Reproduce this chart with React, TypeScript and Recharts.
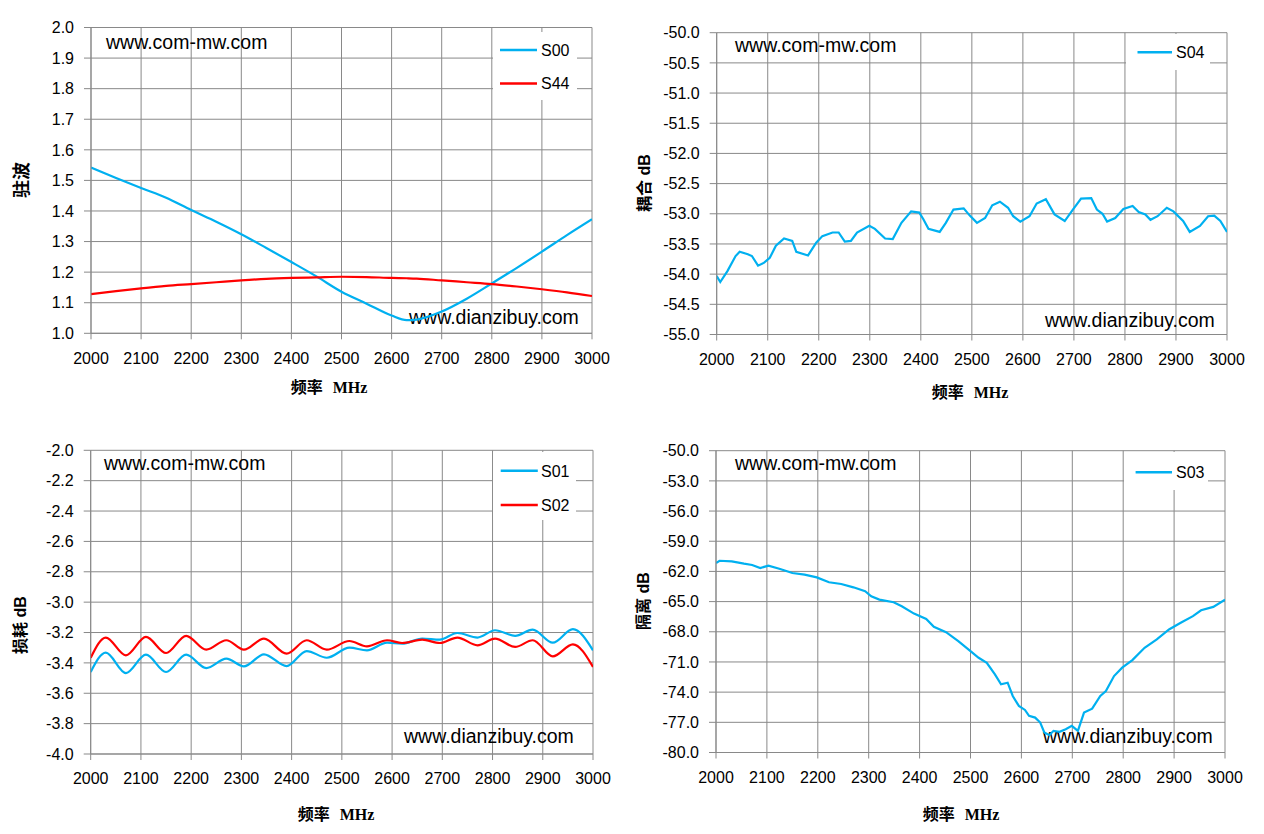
import React from 'react';
import { LineChart, Line, XAxis, YAxis, CartesianGrid } from 'recharts';

// ---------- shared axis ticks ----------
const FREQ_TICKS = [2000, 2100, 2200, 2300, 2400, 2500, 2600, 2700, 2800, 2900, 3000];
const VSWR_TICKS = [1.0, 1.1, 1.2, 1.3, 1.4, 1.5, 1.6, 1.7, 1.8, 1.9, 2.0];
const COUPLING_TICKS = [-55.0, -54.5, -54.0, -53.5, -53.0, -52.5, -52.0, -51.5, -51.0, -50.5, -50.0];
const LOSS_TICKS = [-4.0, -3.8, -3.6, -3.4, -3.2, -3.0, -2.8, -2.6, -2.4, -2.2, -2.0];
const ISO_TICKS = [-80.0, -77.0, -74.0, -71.0, -68.0, -65.0, -62.0, -59.0, -56.0, -53.0, -50.0];

// ---------- chart 1: VSWR ----------
const vswrFreq = [2000, 2050, 2100, 2150, 2200, 2250, 2300, 2350, 2400, 2450, 2500, 2550, 2600, 2630, 2650, 2700, 2750, 2800, 2850, 2900, 2950, 3000];
const s00 = [1.542, 1.508, 1.475, 1.443, 1.403, 1.365, 1.324, 1.279, 1.233, 1.186, 1.136, 1.097, 1.058, 1.043, 1.045, 1.071, 1.113, 1.163, 1.214, 1.267, 1.321, 1.373];
const s44 = [1.128, 1.138, 1.147, 1.155, 1.161, 1.167, 1.173, 1.178, 1.181, 1.183, 1.185, 1.184, 1.181, 1.180, 1.179, 1.173, 1.167, 1.161, 1.153, 1.144, 1.134, 1.122];

// ---------- chart 2: coupling S04 ----------
const s04Freq = [2000, 2007, 2021, 2037, 2045, 2061, 2069, 2081, 2093, 2104, 2116, 2132, 2148, 2156, 2179, 2195, 2207, 2227, 2239, 2251, 2263, 2275, 2299, 2310, 2330, 2345, 2362, 2381, 2397, 2405, 2415, 2437, 2449, 2464, 2484, 2496, 2510, 2526, 2540, 2555, 2571, 2581, 2595, 2613, 2627, 2645, 2662, 2682, 2698, 2714, 2734, 2745, 2756, 2765, 2781, 2797, 2815, 2827, 2840, 2850, 2864, 2882, 2895, 2914, 2927, 2947, 2963, 2975, 2987, 3000];
const s04 = [-54.03, -54.13, -53.95, -53.70, -53.63, -53.67, -53.70, -53.86, -53.81, -53.73, -53.53, -53.41, -53.45, -53.63, -53.69, -53.48, -53.37, -53.31, -53.31, -53.46, -53.45, -53.31, -53.20, -53.25, -53.41, -53.42, -53.15, -52.96, -52.98, -53.09, -53.25, -53.30, -53.15, -52.93, -52.91, -53.03, -53.15, -53.07, -52.86, -52.80, -52.90, -53.04, -53.13, -53.04, -52.83, -52.76, -53.01, -53.12, -52.93, -52.75, -52.74, -52.93, -53.00, -53.13, -53.07, -52.92, -52.87, -52.97, -53.01, -53.10, -53.04, -52.90, -52.96, -53.12, -53.30, -53.20, -53.04, -53.03, -53.12, -53.30];

// ---------- chart 3: insertion loss ----------
const lossFreq = [2000, 2030, 2070, 2110, 2150, 2190, 2230, 2270, 2305, 2345, 2390, 2430, 2470, 2515, 2550, 2590, 2620, 2660, 2695, 2730, 2770, 2805, 2845, 2880, 2920, 2960, 3000];
const s01 = [-3.460, -3.333, -3.467, -3.346, -3.460, -3.346, -3.434, -3.372, -3.423, -3.344, -3.421, -3.322, -3.366, -3.300, -3.317, -3.267, -3.273, -3.240, -3.247, -3.203, -3.233, -3.185, -3.222, -3.181, -3.267, -3.178, -3.317];
const s02 = [-3.366, -3.233, -3.350, -3.229, -3.335, -3.222, -3.313, -3.251, -3.313, -3.240, -3.339, -3.251, -3.313, -3.256, -3.291, -3.251, -3.269, -3.247, -3.269, -3.233, -3.284, -3.240, -3.295, -3.251, -3.357, -3.278, -3.427];

// ---------- chart 4: isolation S03 ----------
const s03Freq = [2000, 2007, 2031, 2055, 2071, 2087, 2103, 2126, 2150, 2174, 2198, 2222, 2246, 2270, 2293, 2305, 2321, 2349, 2365, 2389, 2413, 2428, 2452, 2476, 2500, 2516, 2532, 2548, 2560, 2573, 2583, 2595, 2607, 2615, 2627, 2637, 2645, 2655, 2663, 2675, 2687, 2699, 2711, 2723, 2739, 2755, 2766, 2782, 2798, 2818, 2842, 2866, 2890, 2913, 2937, 2953, 2977, 3000];
const s03 = [-61.17, -60.94, -61.00, -61.23, -61.36, -61.66, -61.43, -61.76, -62.16, -62.32, -62.59, -63.08, -63.25, -63.58, -63.97, -64.47, -64.80, -65.06, -65.46, -66.19, -66.72, -67.51, -68.04, -68.93, -69.92, -70.58, -71.08, -72.23, -73.22, -73.06, -74.38, -75.37, -75.77, -76.36, -76.53, -77.02, -78.01, -78.28, -77.85, -77.95, -77.68, -77.35, -77.85, -76.03, -75.64, -74.38, -73.89, -72.40, -71.57, -70.81, -69.59, -68.76, -67.77, -67.11, -66.45, -65.86, -65.53, -64.80];

// ---------- styles ----------
const GRID = '#898989';
const BLUE = '#00B0F0';
const RED = '#FF0000';
const SANS = "'Liberation Sans', Arial, sans-serif";
const TITLE_Y_FONT = "'Liberation Sans', 'Noto Sans CJK SC', sans-serif";
const TITLE_X_FONT = "'Liberation Serif', 'Noto Sans CJK SC', serif";
const YAXIS_W = 60;
const XAXIS_H = 30;

type Series = { key: string; name: string; color: string };
type Mark = { text: string; x: number; y: number };
type LegendBox = { x: number; y: number; w: number; h: number; x1: number; x2: number; tx: number; rows: number[] };

type PanelProps = {
  ox: number; oy: number; w: number; h: number;
  plot: { l: number; t: number; r: number; b: number };
  data: any[];
  series: Series[];
  yDomain: [number, number];
  yTicks: number[];
  curve: 'monotone' | 'linear';
  yTitle: string; yTitlePos: [number, number]; yTitleSize: number;
  xTitlePos: [number, number];
  marks: Mark[];
  legend: LegendBox;
};

function Panel(p: PanelProps) {
  const margin = {
    top: p.plot.t - p.oy,
    left: p.plot.l - p.ox - YAXIS_W,
    right: p.ox + p.w - p.plot.r,
    bottom: p.oy + p.h - p.plot.b - XAXIS_H,
  };
  const L = (x: number) => x - p.ox;
  const T = (y: number) => y - p.oy;
  const [ytx, yty] = [L(p.yTitlePos[0]), T(p.yTitlePos[1])];
  const [xtx, xty] = [L(p.xTitlePos[0]), T(p.xTitlePos[1])];
  return (
    <div style={{ position: 'absolute', left: p.ox, top: p.oy, width: p.w, height: p.h }}>
      <LineChart width={p.w} height={p.h} data={p.data} margin={margin}>
        <CartesianGrid stroke={GRID} strokeWidth={1} />
        <XAxis
          dataKey="f"
          type="number"
          domain={[2000, 3000]}
          ticks={FREQ_TICKS}
          interval={0}
          allowDataOverflow
          height={XAXIS_H}
          tickSize={6}
          tickMargin={13}
          stroke={GRID}
          axisLine={{ stroke: GRID }}
          tickLine={{ stroke: GRID }}
          tick={{ fill: '#000', fontSize: 16, fontFamily: SANS }}
        />
        <YAxis
          type="number"
          domain={p.yDomain}
          ticks={p.yTicks}
          interval={0}
          allowDataOverflow
          width={YAXIS_W}
          tickSize={7}
          tickMargin={10}
          stroke={GRID}
          axisLine={{ stroke: GRID }}
          tickLine={{ stroke: GRID }}
          tick={{ fill: '#000', fontSize: 16, fontFamily: SANS }}
          tickFormatter={(v: number) => v.toFixed(1)}
        />
        {p.series.map((s) => (
          <Line
            key={s.key}
            type={p.curve}
            dataKey={s.key}
            name={s.name}
            stroke={s.color}
            strokeWidth={2.2}
            dot={false}
            activeDot={false}
            isAnimationActive={false}
          />
        ))}
        <g>
          <rect x={L(p.legend.x)} y={T(p.legend.y)} width={p.legend.w} height={p.legend.h} fill="#ffffff" />
          {p.series.map((s, i) => (
            <g key={s.key}>
              <line x1={L(p.legend.x1)} x2={L(p.legend.x2)} y1={T(p.legend.rows[i])} y2={T(p.legend.rows[i])} stroke={s.color} strokeWidth={2.5} />
              <text x={L(p.legend.tx)} y={T(p.legend.rows[i]) + 5.8} fontSize={16} fontFamily={SANS} fill="#000">{s.name}</text>
            </g>
          ))}
        </g>
        {p.marks.map((m, i) => (
          <text key={i} x={L(m.x)} y={T(m.y)} fontSize={19.5} fontFamily={SANS} fill="#000">{m.text}</text>
        ))}
        <text
          x={ytx}
          y={yty}
          transform={`rotate(-90 ${ytx} ${yty})`}
          textAnchor="middle"
          dominantBaseline="central"
          fontSize={p.yTitleSize}
          fontWeight="bold"
          fontFamily={TITLE_Y_FONT}
          fill="#000"
        >{p.yTitle}</text>
        <text
          x={xtx}
          y={xty}
          textAnchor="middle"
          dominantBaseline="central"
          fontSize={16}
          fontWeight="bold"
          fontFamily={TITLE_X_FONT}
          fill="#000"
        >
          <tspan>频率 </tspan>
          <tspan dx={6}>MHz</tspan>
        </text>
      </LineChart>
    </div>
  );
}

const vswrData = vswrFreq.map((f, i) => ({ f, s00: s00[i], s44: s44[i] }));
const couplingData = s04Freq.map((f, i) => ({ f, s04: s04[i] }));
const lossData = lossFreq.map((f, i) => ({ f, s01: s01[i], s02: s02[i] }));
const isoData = s03Freq.map((f, i) => ({ f, s03: s03[i] }));

export default function App() {
  return (
    <div style={{ position: 'absolute', left: 0, top: 0, width: 1264, height: 834, background: '#fff' }}>
      <Panel
        ox={0} oy={0} w={632} h={417}
        plot={{ l: 91, t: 27.5, r: 592, b: 333.3 }}
        data={vswrData}
        series={[{ key: 's00', name: 'S00', color: BLUE }, { key: 's44', name: 'S44', color: RED }]}
        yDomain={[1.0, 2.0]}
        yTicks={VSWR_TICKS}
        curve="monotone"
        yTitle="驻波" yTitlePos={[22, 180]} yTitleSize={18}
        xTitlePos={[329, 387]}
        marks={[{ text: 'www.com-mw.com', x: 106, y: 49 }, { text: 'www.dianzibuy.com', x: 409, y: 324 }]}
        legend={{ x: 493, y: 32, w: 84, h: 68, x1: 500, x2: 537, tx: 541, rows: [50, 83.5] }}
      />
      <Panel
        ox={632} oy={0} w={632} h={417}
        plot={{ l: 716.7, t: 32.7, r: 1227, b: 334.5 }}
        data={couplingData}
        series={[{ key: 's04', name: 'S04', color: BLUE }]}
        yDomain={[-55.0, -50.0]}
        yTicks={COUPLING_TICKS}
        curve="linear"
        yTitle="耦合 dB" yTitlePos={[644, 183]} yTitleSize={16}
        xTitlePos={[970, 392]}
        marks={[{ text: 'www.com-mw.com', x: 735, y: 52 }, { text: 'www.dianzibuy.com', x: 1045, y: 327 }]}
        legend={{ x: 1126, y: 34, w: 84, h: 36, x1: 1137.5, x2: 1172, tx: 1176, rows: [52.3] }}
      />
      <Panel
        ox={0} oy={417} w={632} h={417}
        plot={{ l: 90.7, t: 450.3, r: 593, b: 754 }}
        data={lossData}
        series={[{ key: 's01', name: 'S01', color: BLUE }, { key: 's02', name: 'S02', color: RED }]}
        yDomain={[-4.0, -2.0]}
        yTicks={LOSS_TICKS}
        curve="monotone"
        yTitle="损耗 dB" yTitlePos={[20, 625]} yTitleSize={16}
        xTitlePos={[336, 814]}
        marks={[{ text: 'www.com-mw.com', x: 104, y: 470 }, { text: 'www.dianzibuy.com', x: 404, y: 743 }]}
        legend={{ x: 493, y: 452, w: 83, h: 68, x1: 500.7, x2: 537.8, tx: 541, rows: [470.7, 505] }}
      />
      <Panel
        ox={632} oy={417} w={632} h={417}
        plot={{ l: 716, t: 450.7, r: 1225, b: 752.5 }}
        data={isoData}
        series={[{ key: 's03', name: 'S03', color: BLUE }]}
        yDomain={[-80.0, -50.0]}
        yTicks={ISO_TICKS}
        curve="linear"
        yTitle="隔离 dB" yTitlePos={[643, 601]} yTitleSize={16}
        xTitlePos={[961, 814]}
        marks={[{ text: 'www.com-mw.com', x: 735, y: 470 }, { text: 'www.dianzibuy.com', x: 1043, y: 743 }]}
        legend={{ x: 1124, y: 452, w: 84, h: 38, x1: 1135.6, x2: 1172, tx: 1176, rows: [472.3] }}
      />
    </div>
  );
}
